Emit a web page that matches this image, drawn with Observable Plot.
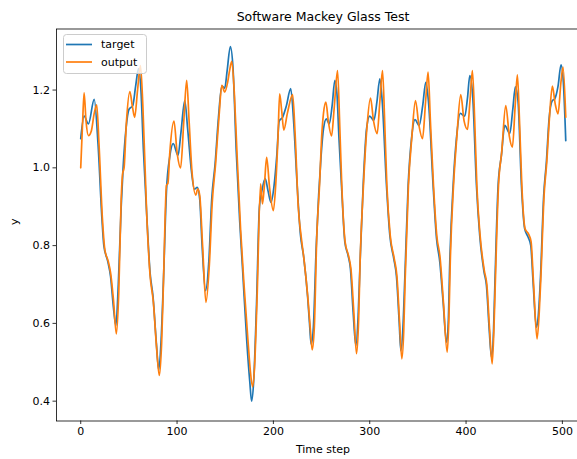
<!DOCTYPE html>
<html>
<head>
<meta charset="utf-8">
<script src="https://cdn.jsdelivr.net/npm/d3@7"></script>
<script src="https://cdn.jsdelivr.net/npm/@observablehq/plot@0.6"></script>
<style>
  html, body { margin: 0; padding: 0; background: #fff; overflow: hidden; }
  #chart { width: 577px; height: 459px; overflow: hidden; }
</style>
</head>
<body>
<div id="chart"></div>
<script>
// Mackey-Glass test run: reference series ("target") and model prediction ("output")
const targetSteps = [0, 3.5, 8, 14, 18, 22, 24, 28, 31, 34, 36.5, 39, 42, 44, 47, 50, 54, 57, 60, 62.5, 65, 68.5, 72, 75, 78.5, 81, 83.5, 86, 89, 92.5, 96, 101, 104, 108, 111, 115, 118, 121, 123.5, 126, 129.5, 133, 136, 139.5, 143, 146.5, 149.5, 152, 155.3, 158, 161.5, 165, 168, 172.5, 175.5, 177.4, 179.5, 182.5, 185.5, 188, 191.5, 194.5, 197.5, 200.5, 203.5, 206, 209.5, 213.5, 218, 221, 224.8, 228, 231.5, 235.5, 237.5, 239.2, 241.5, 244.5, 247, 249.5, 252, 255, 258, 261, 263.8, 266, 268, 270.7, 274.2, 277.6, 280, 282.8, 285.6, 288, 290, 293.2, 296.7, 300, 304.3, 307.5, 310.5, 313, 317.4, 320.9, 325, 327.8, 330.6, 332.3, 334.5, 336.4, 339.9, 343.4, 347, 351.3, 355, 358.2, 361, 365.8, 369.3, 372.8, 376.2, 379.7, 381.5, 383.1, 386.6, 390, 394, 398.7, 401.5, 403.9, 407, 410.8, 414.2, 418.7, 421.2, 424, 426.4, 428.5, 429.8, 433.3, 436.7, 440.2, 445.4, 448.5, 451.2, 454, 457.5, 460.9, 464.4, 467.2, 469.6, 473, 475, 477.2, 480.6, 483.4, 486.2, 489.6, 492, 495.5, 498.6, 501, 503.5];
const targetValues = [1.075, 1.133, 1.113, 1.176, 1.06, 0.87, 0.80, 0.76, 0.72, 0.64, 0.594, 0.70, 0.90, 1.0, 1.10, 1.15, 1.16, 1.21, 1.255, 1.20, 1.05, 0.88, 0.73, 0.67, 0.55, 0.48, 0.56, 0.72, 0.94, 1.03, 1.062, 1.032, 1.09, 1.173, 1.10, 0.99, 0.945, 0.95, 0.92, 0.80, 0.684, 0.76, 0.92, 1.01, 1.13, 1.21, 1.205, 1.25, 1.312, 1.26, 1.04, 0.864, 0.74, 0.55, 0.45, 0.40, 0.45, 0.65, 0.90, 0.94, 0.972, 0.94, 0.911, 0.95, 1.03, 1.12, 1.13, 1.16, 1.204, 1.12, 0.95, 0.83, 0.77, 0.67, 0.60, 0.546, 0.59, 0.80, 0.93, 1.03, 1.10, 1.126, 1.113, 1.16, 1.225, 1.19, 1.08, 0.955, 0.809, 0.774, 0.74, 0.629, 0.543, 0.62, 0.757, 0.955, 1.10, 1.133, 1.122, 1.17, 1.229, 1.17, 0.955, 0.826, 0.766, 0.72, 0.603, 0.53, 0.59, 0.714, 0.955, 1.075, 1.124, 1.109, 1.16, 1.22, 1.17, 0.955, 0.82, 0.757, 0.655, 0.552, 0.60, 0.757, 0.955, 1.075, 1.14, 1.133, 1.18, 1.237, 1.18, 0.955, 0.826, 0.732, 0.697, 0.586, 0.513, 0.58, 0.689, 0.955, 1.032, 1.109, 1.088, 1.15, 1.208, 1.17, 0.955, 0.843, 0.822, 0.80, 0.706, 0.59, 0.62, 0.714, 0.929, 1.015, 1.126, 1.173, 1.177, 1.21, 1.265, 1.22, 1.07];

const outputSteps = [0, 2, 3.5, 5.5, 8, 11, 14, 16.6, 19, 22.5, 25, 28.5, 31, 34, 37, 39.5, 42, 43.5, 45, 47.5, 51, 53.5, 56, 59, 62, 64.5, 68.5, 72, 75.4, 78.8, 81.6, 84, 86, 89, 90.5, 92.5, 96.8, 100, 103.7, 107, 110, 112.5, 115.5, 119.5, 121.4, 123.5, 126.5, 130, 133.5, 136.5, 140, 143.5, 146.5, 149.5, 152.5, 154.5, 156.8, 159.5, 162, 166, 169.5, 173.5, 176, 178.4, 180.5, 183, 186.7, 188.7, 190.8, 193, 196, 200, 202.5, 204.8, 206.5, 208.5, 210.8, 214.5, 220, 222.5, 225.8, 229, 232, 236, 238.5, 240.3, 242.5, 245, 248, 250, 252, 254.5, 257, 260.4, 263, 266.6, 269, 271, 274.5, 278, 280.5, 283.5, 286.3, 288.5, 290, 293.5, 297, 300.8, 304, 307.7, 310.5, 313.3, 315.5, 317.8, 321.3, 325.5, 328.3, 331, 333.3, 335.3, 336.8, 340.2, 343.6, 347.5, 351, 354.8, 358, 360.6, 363, 366.2, 369.6, 373, 376.5, 380.4, 382.3, 383.6, 387, 390.3, 394.5, 398, 401.5, 404, 406.6, 409, 411.2, 414.6, 419, 421.6, 424.4, 427.1, 429, 430.2, 433.7, 437, 441.2, 445, 448.1, 451, 453.3, 455.5, 457.9, 461.3, 464.8, 467.5, 470, 473.7, 476, 477.6, 481, 483.8, 486.5, 489.6, 492.5, 495.5, 498.5, 500.7, 503.5];
const outputValues = [1.0, 1.12, 1.193, 1.12, 1.083, 1.095, 1.14, 1.162, 1.06, 0.87, 0.79, 0.76, 0.73, 0.66, 0.573, 0.68, 0.92, 0.985, 1.0, 1.12, 1.196, 1.16, 1.13, 1.20, 1.263, 1.16, 0.88, 0.723, 0.655, 0.535, 0.466, 0.55, 0.715, 0.955, 0.96, 1.04, 1.12, 1.04, 1.0, 1.12, 1.225, 1.12, 0.99, 0.93, 0.946, 0.93, 0.80, 0.654, 0.75, 0.91, 1.01, 1.13, 1.212, 1.195, 1.22, 1.25, 1.274, 1.19, 1.05, 0.84, 0.70, 0.56, 0.48, 0.437, 0.49, 0.66, 0.959, 0.907, 0.96, 1.027, 0.95, 0.89, 0.96, 1.08, 1.19, 1.15, 1.097, 1.14, 1.188, 1.09, 0.90, 0.82, 0.76, 0.66, 0.58, 0.532, 0.59, 0.82, 0.96, 1.075, 1.14, 1.169, 1.12, 1.082, 1.15, 1.25, 1.10, 0.955, 0.809, 0.774, 0.74, 0.629, 0.522, 0.61, 0.757, 0.955, 1.10, 1.179, 1.12, 1.088, 1.17, 1.25, 1.12, 0.955, 0.826, 0.766, 0.72, 0.603, 0.509, 0.58, 0.714, 0.955, 1.075, 1.173, 1.11, 1.075, 1.17, 1.246, 1.12, 0.955, 0.826, 0.77, 0.655, 0.526, 0.62, 0.757, 0.955, 1.075, 1.188, 1.12, 1.099, 1.17, 1.25, 1.12, 0.955, 0.826, 0.735, 0.70, 0.586, 0.496, 0.59, 0.689, 0.955, 1.04, 1.16, 1.08, 1.053, 1.16, 1.239, 1.12, 0.955, 0.843, 0.83, 0.81, 0.706, 0.56, 0.63, 0.714, 0.929, 1.015, 1.126, 1.21, 1.165, 1.139, 1.22, 1.259, 1.13];

const seriesNames = ["target", "output"];
const seriesColors = ["#1f77b4", "#ff7f0e"];
const xTicks = [0, 100, 200, 300, 400, 500];
const yTicks = [0.4, 0.6, 0.8, 1.0, 1.2];
const titleText = "Software Mackey Glass Test";
const xLabel = "Time step";
const yLabel = "y";

const rows = [
  ...targetSteps.map((t, i) => ({step: t, value: targetValues[i], series: seriesNames[0]})),
  ...outputSteps.map((t, i) => ({step: t, value: outputValues[i], series: seriesNames[1]}))
];

const font = "'DejaVu Sans', sans-serif";

const chart = Plot.plot({
  width: 600,
  height: 459,
  marginLeft: 56,
  marginRight: 11,
  marginTop: 28.5,
  marginBottom: 38.5,
  style: {fontFamily: font, fontSize: "11px", color: "#000", background: "#fff"},
  x: {domain: [-25.15, 528.15]},
  y: {domain: [0.349, 1.357]},
  color: {domain: seriesNames, range: seriesColors},
  marks: [
    Plot.line(rows, {x: "step", y: "value", z: "series", stroke: "series", strokeWidth: 1.7, curve: "monotone-x"}),
    Plot.frame({stroke: "#000", strokeWidth: 0.8}),
    Plot.axisX({ticks: xTicks, tickSize: 3.5, tickPadding: 3, strokeWidth: 0.8, tickFormat: d3.format("d"), label: null}),
    Plot.axisY({ticks: yTicks, tickSize: 3.5, tickPadding: 3, strokeWidth: 0.8, tickFormat: d3.format(".1f"), label: null}),
    Plot.text([titleText], {frameAnchor: "top", dy: -12, lineAnchor: "middle", fontSize: 12.5, fill: "#000"}),
    Plot.text([xLabel], {frameAnchor: "bottom", dy: 28, lineAnchor: "middle", fontSize: 11, fill: "#000"}),
    Plot.text([yLabel], {frameAnchor: "left", dx: -42, rotate: -90, lineAnchor: "middle", fontSize: 11, fill: "#000"})
  ]
});
chart.style.maxWidth = "none";
chart.style.display = "block";

// Line legend in the upper-left corner of the axes
const svg = d3.select(chart);
const legend = svg.append("g")
  .attr("font-family", font).attr("font-size", 11).attr("text-anchor", "start");
legend.append("rect")
  .attr("x", 63.5).attr("y", 34.5).attr("width", 83).attr("height", 39)
  .attr("rx", 3).attr("fill", "#fff").attr("fill-opacity", 0.8)
  .attr("stroke", "#cccccc").attr("stroke-width", 1);
seriesNames.forEach((name, i) => {
  const cy = 44.5 + i * 17.5;
  legend.append("line")
    .attr("x1", 66).attr("x2", 92).attr("y1", cy).attr("y2", cy)
    .attr("stroke", seriesColors[i]).attr("stroke-width", 1.7);
  legend.append("text")
    .attr("x", 101).attr("y", cy).attr("dy", "0.35em")
    .attr("fill", "#000").text(name);
});

document.getElementById("chart").appendChild(chart);
</script>
</body>
</html>
